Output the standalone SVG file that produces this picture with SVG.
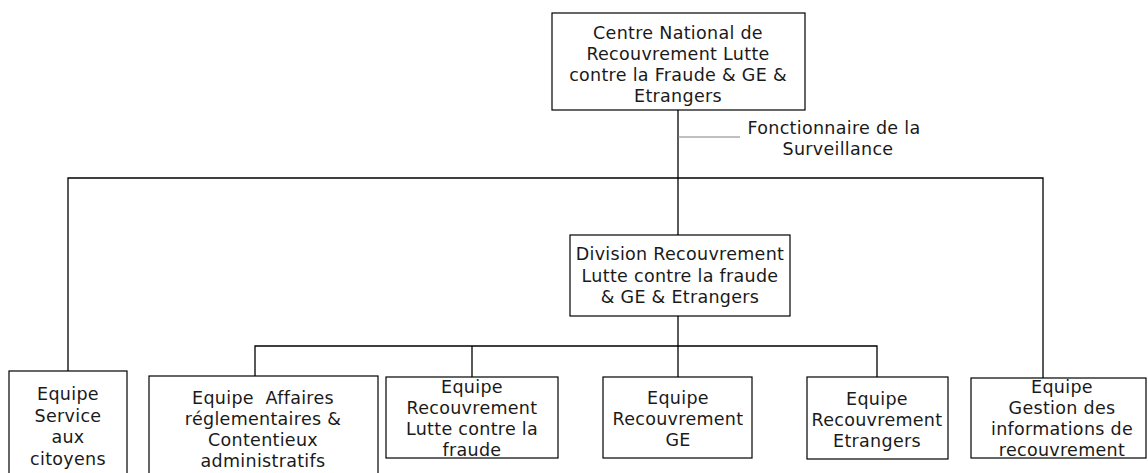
<svg xmlns="http://www.w3.org/2000/svg" width="1148" height="473" viewBox="0 0 1148 473">
  <style>
    .box { fill: #ffffff; stroke: #000000; stroke-width: 1.2; }
    .wire { fill: none; stroke: #000000; stroke-width: 1.3; }
    .thin { fill: none; stroke: #808080; stroke-width: 1; }
    text { font-family: "DejaVu Sans", Verdana, sans-serif; font-size: 17.5px; letter-spacing: 0.3px; fill: #1a1a1a; text-anchor: middle; }
  </style>
  <rect width="1148" height="473" fill="#ffffff"/>

  <!-- connectors -->
  <g id="connectors">
    <line class="wire" x1="678" y1="110" x2="678" y2="235"/>
    <line class="thin" x1="678" y1="137" x2="740" y2="137"/>
    <polyline class="wire" points="68,372 68,178 1043,178 1043,378"/>
    <line class="wire" x1="678" y1="316" x2="678" y2="377"/>
    <polyline class="wire" points="255,376 255,346 877,346 877,377"/>
    <line class="wire" x1="472" y1="346" x2="472" y2="377"/>
  </g>

  <g id="centre-national">
    <rect class="box" x="552" y="13" width="253" height="97"/>
    <text x="678" y="39">Centre National de</text>
    <text x="678" y="60">Recouvrement Lutte</text>
    <text x="678" y="81">contre la Fraude &amp; GE &amp;</text>
    <text x="678" y="102">Etrangers</text>
  </g>

  <g id="fonctionnaire">
    <text x="834" y="134">Fonctionnaire de la</text>
    <text x="838" y="155">Surveillance</text>
  </g>

  <g id="division">
    <rect class="box" x="570" y="235" width="220" height="81"/>
    <text x="680" y="260">Division Recouvrement</text>
    <text x="680" y="282">Lutte contre la fraude</text>
    <text x="680" y="303">&amp; GE &amp; Etrangers</text>
  </g>

  <g id="equipe-service">
    <rect class="box" x="9" y="371" width="118" height="110"/>
    <text x="68" y="400">Equipe</text>
    <text x="68" y="422">Service</text>
    <text x="68" y="443">aux</text>
    <text x="68" y="465">citoyens</text>
  </g>

  <g id="equipe-affaires">
    <rect class="box" x="149" y="376" width="229" height="110"/>
    <text x="263" y="404" xml:space="preserve">Equipe  Affaires</text>
    <text x="263" y="425">réglementaires &amp;</text>
    <text x="263" y="446">Contentieux</text>
    <text x="263" y="467">administratifs</text>
  </g>

  <g id="equipe-fraude">
    <rect class="box" x="386" y="377" width="172" height="81"/>
    <text x="472" y="393">Equipe</text>
    <text x="472" y="414">Recouvrement</text>
    <text x="472" y="435">Lutte contre la</text>
    <text x="472" y="456">fraude</text>
  </g>

  <g id="equipe-ge">
    <rect class="box" x="603" y="377" width="149" height="81"/>
    <text x="678" y="404">Equipe</text>
    <text x="678" y="425">Recouvrement</text>
    <text x="678" y="446">GE</text>
  </g>

  <g id="equipe-etrangers">
    <rect class="box" x="807" y="377" width="141" height="82"/>
    <text x="877" y="405">Equipe</text>
    <text x="877" y="426">Recouvrement</text>
    <text x="877" y="447">Etrangers</text>
  </g>

  <g id="equipe-gestion">
    <rect class="box" x="971" y="378" width="175" height="80"/>
    <text x="1062" y="393">Equipe</text>
    <text x="1062" y="414">Gestion des</text>
    <text x="1062" y="435">informations de</text>
    <text x="1062" y="456">recouvrement</text>
  </g>
</svg>
